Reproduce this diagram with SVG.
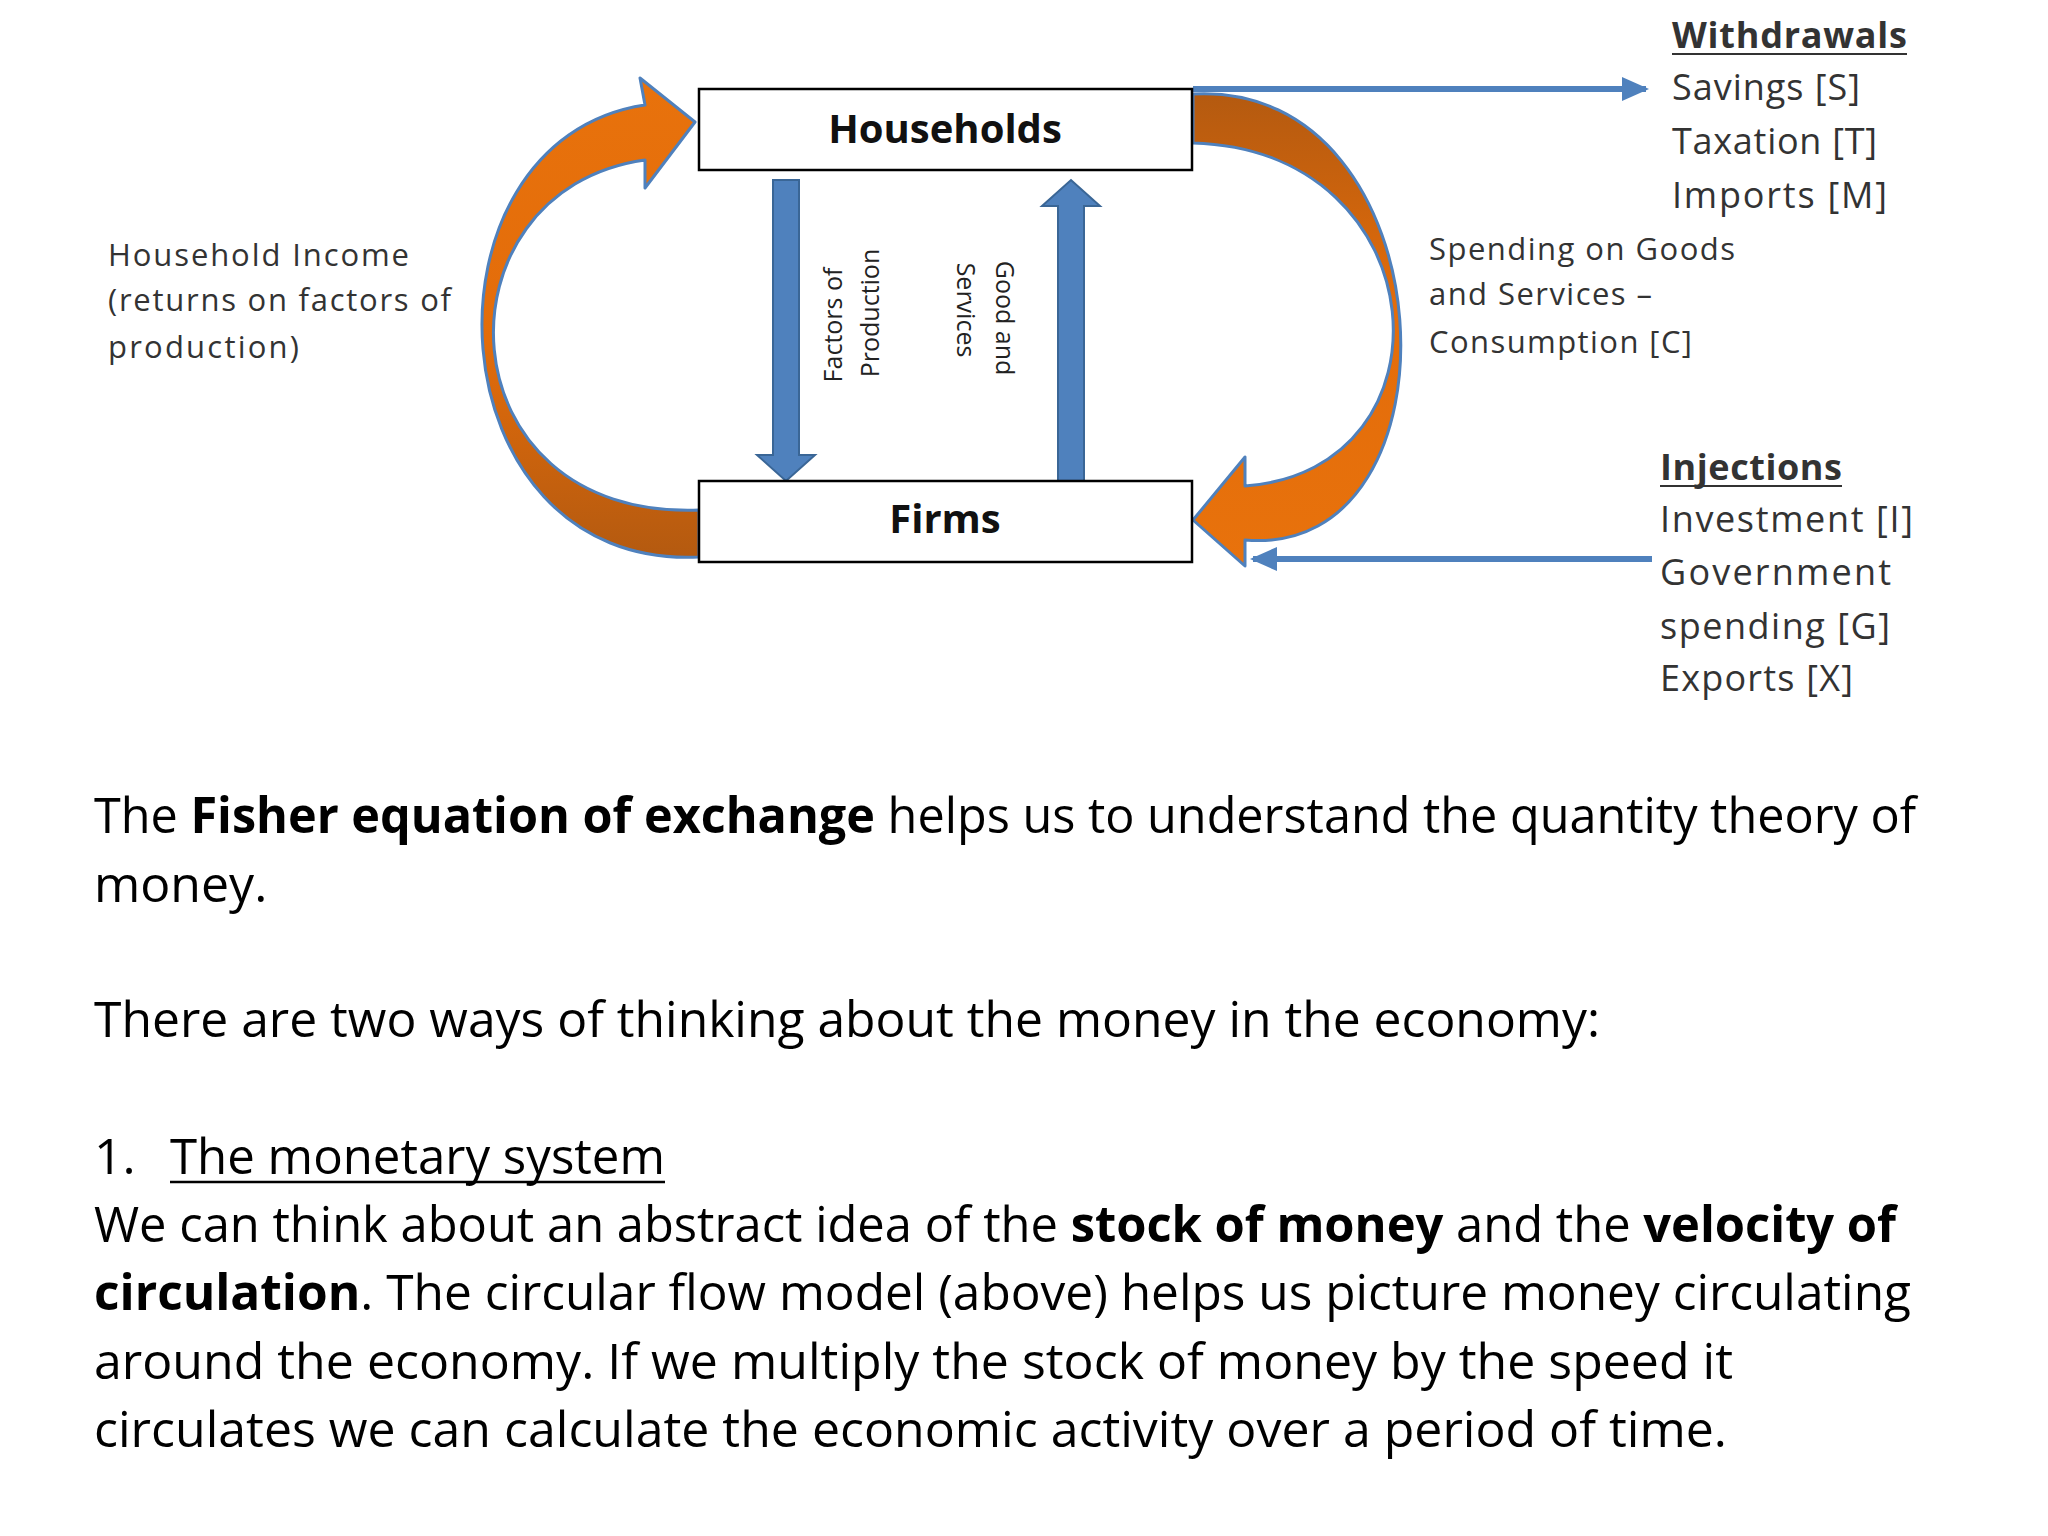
<svg xmlns="http://www.w3.org/2000/svg" width="2048" height="1536" viewBox="0 0 2048 1536">
<style>
.box{fill:#fff;stroke:#000;stroke-width:2.5}
.bt{font-family:"Open Sans","Liberation Sans",sans-serif;font-weight:bold;font-size:40px;text-anchor:middle;fill:#111}
.sm{font-family:"Open Sans","Liberation Sans",sans-serif;font-size:31px;fill:#333}
.rt{font-family:"Open Sans","Liberation Sans",sans-serif;font-size:36px;fill:#333}
.vt{font-family:"Open Sans","Liberation Sans",sans-serif;font-size:25px;fill:#222;text-anchor:middle}
.p{font-family:"Open Sans","Liberation Sans",sans-serif;font-size:50px;fill:#000}
.cres{stroke:#4F81BD;stroke-width:3;stroke-linejoin:round}
.bl{stroke:#4F81BD;stroke-width:6;fill:none}
.barr{fill:#4F81BD;stroke:#3A6696;stroke-width:2}
</style>
<defs>
<linearGradient id="gl" x1="0" y1="0" x2="0" y2="1">
<stop offset="0" stop-color="#E8720C"/><stop offset="0.55" stop-color="#E36C0A"/><stop offset="1" stop-color="#B45A10"/>
</linearGradient>
<linearGradient id="gr" x1="0" y1="0" x2="0" y2="1">
<stop offset="0" stop-color="#B45A10"/><stop offset="0.45" stop-color="#E36C0A"/><stop offset="1" stop-color="#E8720C"/>
</linearGradient>
<marker id="ah" markerWidth="6" markerHeight="6" refX="4" refY="2.5" orient="auto" markerUnits="strokeWidth">
<path d="M0,0.5 L4.5,2.5 L0,4.5 Z" fill="#4F81BD"/>
</marker>
</defs>

<g id="connectors">
<path class="cres" fill="url(#gl)" d="M699,557 C430,570 410,140 645,105 L640,78 L695,122 L645,188 L645,160 C430,190 440,520 699,510 Z"/>
<path class="cres" fill="url(#gr)" d="M1193,94 C1450,80 1470,560 1245,540 L1245,566 L1193,520 L1245,457 L1245,486 C1460,470 1440,150 1193,143 Z"/>
<path class="barr" d="M773,180 L799,180 L799,455 L815,455 L786,481 L757,455 L773,455 Z"/>
<path class="barr" d="M1058,481 L1084,481 L1084,206 L1100,206 L1071,180 L1042,206 L1058,206 Z"/>
<line class="bl" x1="1193" y1="89" x2="1646" y2="89" marker-end="url(#ah)"/>
<line class="bl" x1="1652" y1="559" x2="1253" y2="559" marker-end="url(#ah)"/>
</g>

<g id="households"><rect class="box" x="699" y="89" width="493" height="81"/><text class="bt" x="945" y="143">Households</text></g>
<g id="firms"><rect class="box" x="699" y="481" width="493" height="81"/><text class="bt" x="945" y="533">Firms</text></g>

<g id="factors"><text class="vt" transform="translate(842,325) rotate(-90)">Factors of</text><text class="vt" transform="translate(879,313) rotate(-90)">Production</text></g>
<g id="goods"><text class="vt" transform="translate(996,318) rotate(90)">Good and</text><text class="vt" transform="translate(957,310) rotate(90)">Services</text></g>

<g id="income" class="sm"><text x="108" y="266" textLength="301">Household Income</text><text x="108" y="311" textLength="343">(returns  on factors of</text><text x="108" y="358" textLength="191">production)</text></g>
<g id="spending" class="sm"><text x="1429" y="260" textLength="306">Spending on Goods</text><text x="1429" y="305" textLength="223">and Services –</text><text x="1429" y="353" textLength="263">Consumption [C]</text></g>

<g id="withdrawals" class="rt">
<text x="1672" y="48" font-weight="bold" textLength="235">Withdrawals</text><line x1="1672" y1="54" x2="1907" y2="54" stroke="#333" stroke-width="2"/>
<text x="1672" y="100" textLength="188">Savings [S]</text><text x="1672" y="154" textLength="205">Taxation [T]</text><text x="1672" y="208" textLength="215">Imports [M]</text>
</g>
<g id="injections" class="rt">
<text x="1660" y="480" font-weight="bold" textLength="182">Injections</text><line x1="1660" y1="486" x2="1842" y2="486" stroke="#333" stroke-width="2"/>
<text x="1660" y="532" textLength="253">Investment [I]</text><text x="1660" y="585" textLength="231">Government</text><text x="1660" y="639" textLength="230">spending [G]</text><text x="1660" y="691" textLength="193">Exports [X]</text>
</g>

<g id="paragraph" class="p">
<text x="94" y="833" textLength="1822" lengthAdjust="spacingAndGlyphs">The <tspan font-weight="bold">Fisher equation of exchange</tspan> helps us to understand the quantity theory of</text>
<text x="94" y="902">money.</text>
<text x="94" y="1037" textLength="1506" lengthAdjust="spacingAndGlyphs">There are two ways of thinking about the money in the economy:</text>
<text x="94" y="1174">1.</text>
<text x="170" y="1174" textLength="495" lengthAdjust="spacingAndGlyphs">The monetary system</text>
<line x1="170" y1="1182" x2="665" y2="1182" stroke="#000" stroke-width="2.5"/>
<text x="94" y="1242" textLength="1802" lengthAdjust="spacingAndGlyphs">We can think about an abstract idea of the <tspan font-weight="bold">stock of money</tspan> and the <tspan font-weight="bold">velocity of</tspan></text>
<text x="94" y="1310" textLength="1817" lengthAdjust="spacingAndGlyphs"><tspan font-weight="bold">circulation</tspan>.  The circular flow model (above) helps us picture money circulating</text>
<text x="94" y="1379" textLength="1639" lengthAdjust="spacingAndGlyphs">around the economy.  If we multiply the stock of money by the speed it</text>
<text x="94" y="1447" textLength="1633" lengthAdjust="spacingAndGlyphs">circulates we can calculate the economic activity over a period of time.</text>
</g>
</svg>
